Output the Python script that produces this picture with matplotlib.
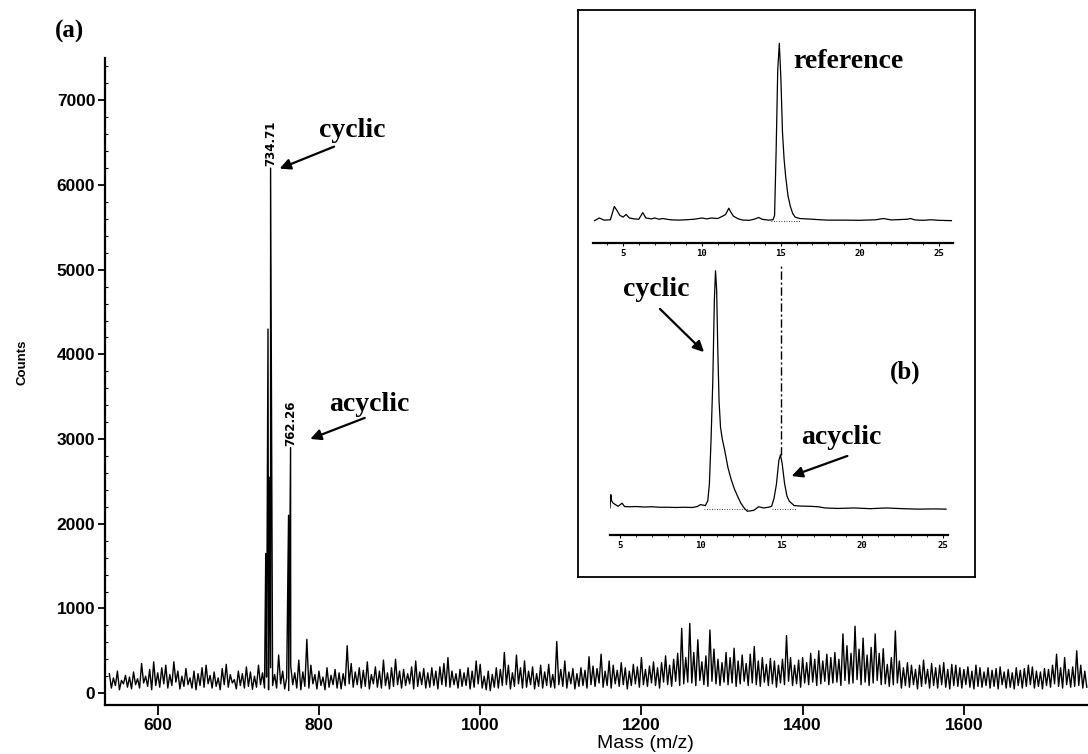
import matplotlib
matplotlib.use("Agg")
import matplotlib.pyplot as plt
import numpy as np
from matplotlib.ticker import MultipleLocator

W, H = 1088, 754


def fx(px):
    return px / W


def fy(py):
    return 1 - py / H


# ---- (a) mass spectrum ----
# baseline spikes (tops) every 5 m/z starting at 540, valleys offset by 2.5
noise_start = 540
noise_step = 5
noise_hi = [
    230, 180, 260, 150, 210, 190, 250, 170, 350, 200, 280, 370,
    240, 300, 330, 220, 370, 260, 200, 290, 180, 260, 230, 300,
    330, 210, 250, 180, 290, 340, 220, 160, 260, 230, 310, 250,
    200, 330, 240, 190, 300, 220, 450, 260, 180, 320, 240, 390,
    250, 635, 330, 220, 260, 190, 300, 210, 280, 240, 230, 560,
    350, 250, 300, 270, 370, 220, 310, 260, 390, 240, 300, 400,
    260, 280, 230, 310, 380, 250, 290, 240, 300, 260, 310, 350,
    420, 260, 230, 280, 240, 300, 260, 380, 340, 200, 260, 220,
    300, 280, 480, 330, 240, 450, 300, 380, 260, 310, 230, 330,
    250, 340, 220, 610, 280, 380, 250, 290, 230, 300, 270, 430,
    320, 290, 460, 260, 380, 330, 270, 360, 300, 260, 340, 310,
    420, 280, 320, 370, 300, 360, 440, 330, 400, 470, 765, 420,
    823, 480, 630, 370, 440, 745, 520, 400, 360, 480, 420, 530,
    380, 450, 350, 460, 550, 380, 420, 340, 410, 380, 330, 400,
    680, 420, 330, 390, 420, 360, 470, 400, 500, 380, 460, 420,
    480, 400, 700, 560, 470, 790, 520, 650, 450, 540, 700, 470,
    525, 340, 420, 735, 380, 300, 360, 330, 280, 330, 390, 280,
    350, 300, 330, 360, 280, 340, 330, 300, 280, 310, 260, 330,
    300, 250, 300, 270, 290, 310, 250, 280, 240, 300, 270, 290,
    330, 310, 260, 250, 290, 280, 330, 460, 300, 420, 280, 310,
    500, 330, 260,
]
noise_lo = [
    60, 90, 40, 110, 70, 50, 100, 60, 120, 80, 40, 90,
    70, 110, 60, 90, 130, 50, 80, 100, 60, 40, 90, 70,
    110, 60, 80, 40, 100, 70, 120, 50, 90, 60, 80, 45,
    70, 100, 60, 40, 90, 60, 110, 50, 30, 100, 60, 40,
    80, 60, 110, 50, 90, 40, 70, 100, 60, 50, 90, 110,
    70, 100, 60, 80, 50, 110, 70, 60, 90, 50, 80, 100,
    60, 90, 110, 50, 80, 100, 60, 70, 90, 50, 100, 80,
    70, 100, 60, 80, 90, 50, 70, 110, 60, 40, 30, 70,
    60, 90, 100, 50, 80, 110, 60, 70, 100, 50, 80, 60,
    90, 70, 60, 100, 80, 60, 110, 50, 80, 90, 60, 100,
    80, 120, 70, 90, 60, 110, 80, 100, 50, 90, 110, 70,
    100, 80, 120, 90, 60, 130, 100, 80, 140, 90, 110, 130,
    120, 90, 150, 100, 80, 140, 110, 90, 130, 100, 120, 80,
    110, 140, 90, 120, 100, 80, 130, 90, 110, 70, 120, 100,
    140, 90, 110, 70, 120, 100, 130, 90, 110, 140, 100, 120,
    130, 90, 150, 110, 120, 160, 100, 130, 90, 120, 150, 100,
    110, 80, 100, 120, 60, 90, 70, 100, 50, 80, 110, 60,
    90, 60, 100, 70, 50, 90, 80, 60, 100, 70, 50, 80,
    70, 90, 60, 80, 50, 100, 60, 70, 50, 90, 60, 80,
    100, 60, 80, 50, 90, 70, 110, 80, 60, 100, 70, 80,
    90, 60, 70,
]

peak_mz = [734.0, 736.8, 738.2, 740.0, 762.3, 764.8]
peak_counts = [1650, 4300, 2550, 6200, 2100, 2900]
label_mz = [740.0, 764.8]
label_counts = [6200, 2900]
label_text = ["734.71", "762.26"]

# ---- (b) HPLC traces ----
ref_t = [3.2, 3.5, 3.8, 4.2, 4.45, 4.6, 4.8, 5.0, 5.2, 5.4, 5.7, 6.0, 6.25, 6.45,
         6.8, 7.0, 7.3, 7.5, 8.0, 8.5, 9.0, 9.5, 10.0, 10.3, 10.6, 11.0, 11.3,
         11.5, 11.7, 11.85, 12.0, 12.3, 12.6, 13.0, 13.3, 13.6, 13.8, 14.2, 14.5,
         14.6, 14.7, 14.8, 14.9, 15.0, 15.1, 15.2, 15.3, 15.45, 15.6, 15.75, 15.9,
         16.2, 16.6, 17.0, 17.5, 18.0, 19.0, 20.0, 21.0, 21.5, 22.0, 23.0, 23.2,
         23.5, 24.0, 24.5, 25.0, 25.8]
ref_sig = [0, 1.5, 0.3, 0.5, 8, 6, 3, 2, 3.5, 1.5, 1, 0.8, 4.5, 1.5,
           1, 1.5, 0.8, 1.2, 0.5, 0.3, 0.5, 0.8, 1.5, 1, 1.5, 1.2, 2.5,
           3.5, 7, 4.5, 2.5, 1, 0.3, 0.2, 0.8, 1.8, 0.8, 0.3, 0.5,
           3, 40, 85, 100, 80, 50, 35, 25, 14, 8, 4, 2,
           1.2, 1, 0.8, 0.5, 0.3, 0.3, 0.2, 0.5, 1.2, 0.4, 0.8, 1.2,
           0.4, 0.2, 0.5, 0.2, 0]
ref_dotted = [(14.4, 16.3)]

smp_t = [4.4, 4.45, 4.5, 4.6, 4.9, 5.15, 5.3, 5.6, 6.0, 6.5, 7.0, 7.5, 8.0, 8.5,
         9.0, 9.5, 9.8, 10.0, 10.3, 10.45, 10.55, 10.65, 10.76, 10.86, 10.93,
         11.0, 11.07, 11.15, 11.24, 11.35, 11.49, 11.7, 11.9, 12.1, 12.3, 12.5,
         12.7, 12.9, 13.3, 13.6, 13.9, 14.2, 14.4, 14.55, 14.7, 14.85, 14.95,
         15.05, 15.2, 15.35, 15.5, 15.8, 16.2, 16.8, 17.3, 17.7, 18.5, 19.5,
         20.5, 21.5, 22.5, 23.5, 24.5, 25.2]
smp_sig = [0, 5.6, 3, 2, 0.7, 2, 0.6, 0.5, 0.6, 0.4, 0.5, 0.3, 0.3, 0.2,
           0.3, 0.2, 0.6, 1.4, 1, 3, 10, 28, 53, 88, 100,
           92, 67, 45, 34, 29, 24.6, 17, 12, 8, 4.9, 2,
           0, -1.4, -1, 0.5, 0, 0.3, 0.7, 4, 10, 20, 22.4,
           19, 10.5, 5, 2.8, 1, 0.8, 0.7, 0.5, 0, -0.2, 0,
           -0.3, 0, -0.3, -0.5, -0.4, -0.5]
smp_dotted = [(10.2, 13.0), (14.4, 16.0)]
acyclic_t = 15.0

# build spectrum
n = len(noise_hi)
hi_x = noise_start + noise_step * np.arange(n)
lo_x = hi_x + noise_step / 2
mz = np.concatenate([hi_x, lo_x[:len(noise_lo)], peak_mz])
counts = np.concatenate([noise_hi, noise_lo, peak_counts])
order = np.argsort(mz)
mz, counts = mz[order], counts[order]

fig = plt.figure(figsize=(W / 100, H / 100), dpi=100)
serif = "Liberation Serif"
sans = "Liberation Sans"

ax = fig.add_axes([fx(105), fy(705), fx(1088) - fx(105), fy(58) - fy(705)])
ax.plot(mz, counts, color="black", lw=1.0)
ax.set_xlim(534.6, 1754)
ax.set_ylim(-140, 7500)
ax.set_xticks([600, 800, 1000, 1200, 1400, 1600])
ax.set_yticks([0, 1000, 2000, 3000, 4000, 5000, 6000, 7000])
ax.yaxis.set_minor_locator(MultipleLocator(200))
for s in ["top", "right"]:
    ax.spines[s].set_visible(False)
for s in ["left", "bottom"]:
    ax.spines[s].set_linewidth(1.6)
ax.tick_params(axis="x", which="major", direction="out", length=7, width=1.3, pad=2)
ax.tick_params(axis="y", which="major", direction="out", length=5, width=1.3, pad=2)
ax.tick_params(axis="y", which="minor", direction="in", length=2, width=0.8)
for lab in ax.get_xticklabels() + ax.get_yticklabels():
    lab.set_fontfamily(sans)
    lab.set_fontweight("bold")
    lab.set_fontsize(12.5)

for m, c, t in zip(label_mz, label_counts, label_text):
    ax.text(m + 0.5, c + 20, t, rotation=90, ha="center", va="bottom",
            fontsize=8.5, fontweight="bold", family="DejaVu Sans")

arrow = dict(arrowstyle="-|>", color="black", lw=1.6, mutation_scale=16)
ax.annotate("", xy=(748, 6182), xytext=(822, 6466), arrowprops=arrow)
ax.annotate("", xy=(786, 2990), xytext=(860, 3262), arrowprops=arrow)
ax.text(841, 6643, "cyclic", ha="center", va="center", fontsize=20,
        fontweight="bold", family=serif)
ax.text(863, 3404, "acyclic", ha="center", va="center", fontsize=20,
        fontweight="bold", family=serif)

fig.text(fx(70), fy(31), "(a)", ha="center", va="center", fontsize=18,
         fontweight="bold", family=serif)
fig.text(fx(22), fy(362), "Counts", rotation=90, ha="center", va="center",
         fontsize=9.5, fontweight="bold", family=sans)
fig.text(fx(645), fy(744), "Mass (m/z)", ha="center", va="center",
         fontsize=14, family=sans)

# ---- inset box (b) ----
box = fig.add_axes([fx(578), fy(577), fx(975) - fx(578), fy(10) - fy(577)])
box.set_xticks([])
box.set_yticks([])
for s in box.spines.values():
    s.set_linewidth(1.3)
box.set_facecolor("white")


def trace_axes(rect, xlim, ylim):
    a = fig.add_axes(rect)
    a.patch.set_alpha(0)
    a.set_xlim(*xlim)
    a.set_ylim(*ylim)
    for s in ["top", "right", "left"]:
        a.spines[s].set_visible(False)
    a.spines["bottom"].set_linewidth(1.6)
    a.set_yticks([])
    a.set_xticks([5, 10, 15, 20, 25])
    a.xaxis.set_minor_locator(MultipleLocator(1))
    a.tick_params(axis="x", which="major", direction="out", length=2.5, width=0.8, pad=1.5)
    a.tick_params(axis="x", which="minor", direction="out", length=1.5, width=0.6)
    for lab in a.get_xticklabels():
        lab.set_fontsize(6.5)
        lab.set_family("DejaVu Sans Mono")
        lab.set_fontweight("bold")
    return a


ax_r = trace_axes([fx(593), fy(243), fx(953) - fx(593), fy(35) - fy(243)],
                  (3.1, 25.9), (-12.6, 104.7))
ax_r.plot(ref_t, ref_sig, color="black", lw=0.9)
for a0, a1 in ref_dotted:
    ax_r.plot([a0, a1], [-0.3, -0.3], color="black", lw=0.6, ls=(0, (1, 2)))

ax_s = trace_axes([fx(610), fy(535), fx(947.7) - fx(610), fy(262) - fy(535)],
                  (4.4, 25.3), (-11.4, 103.7))
ax_s.plot(smp_t, smp_sig, color="black", lw=0.9)
for a0, a1 in smp_dotted:
    ax_s.plot([a0, a1], [-0.3, -0.3], color="black", lw=0.6, ls=(0, (1, 2)))
ax_s.plot([acyclic_t, acyclic_t], [22.4, 102], color="black", lw=1.0,
          ls=(0, (6, 2, 1.5, 2)), clip_on=False)

fig.text(fx(848), fy(62), "reference", ha="center", va="center", fontsize=20,
         fontweight="bold", family=serif)
fig.text(fx(656), fy(289), "cyclic", ha="center", va="center", fontsize=20,
         fontweight="bold", family=serif)
fig.text(fx(905), fy(372), "(b)", ha="center", va="center", fontsize=18,
         fontweight="bold", family=serif)
fig.text(fx(841), fy(437), "acyclic", ha="center", va="center", fontsize=20,
         fontweight="bold", family=serif)
box.annotate("", xy=(fx(706), fy(354)), xytext=(fx(658), fy(307)),
             xycoords="figure fraction", textcoords="figure fraction",
             arrowprops=arrow)
box.annotate("", xy=(fx(789), fy(477)), xytext=(fx(850), fy(455)),
             xycoords="figure fraction", textcoords="figure fraction",
             arrowprops=arrow)

fig.savefig("out.png", dpi=100)
